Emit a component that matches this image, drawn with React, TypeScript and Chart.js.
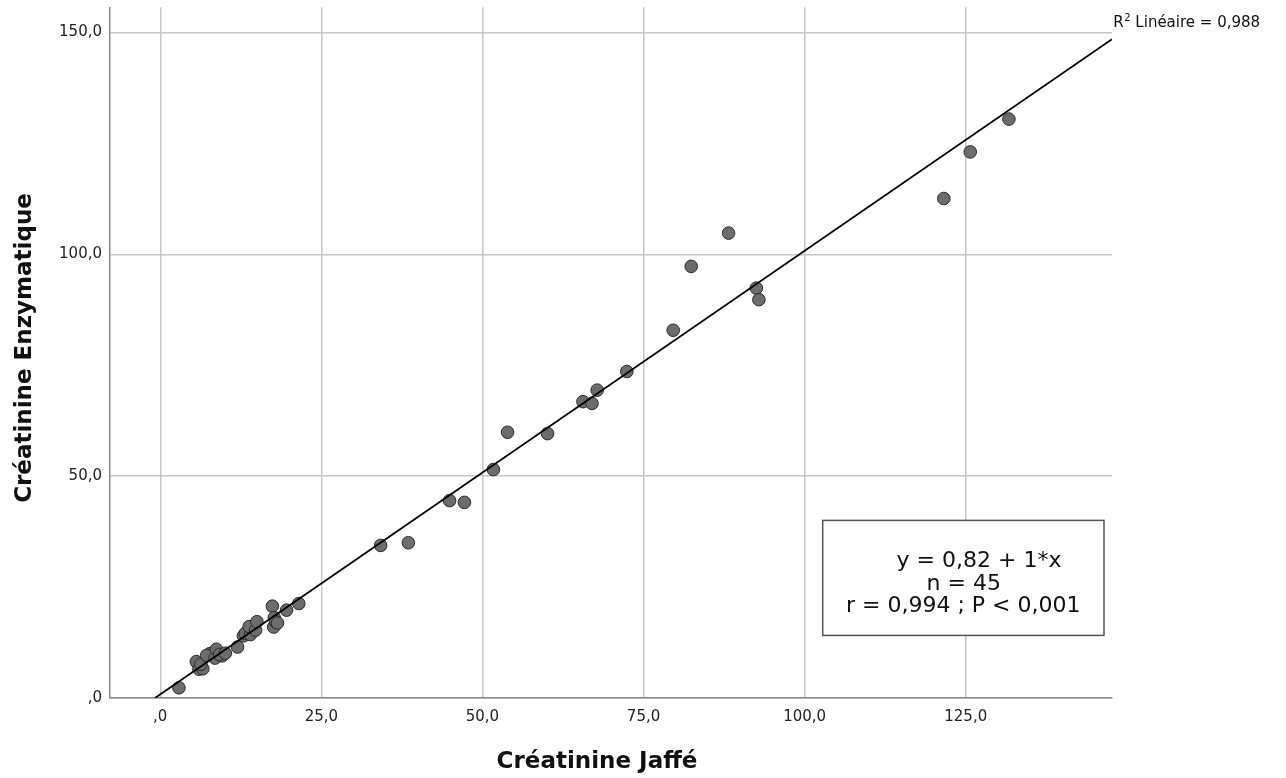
import React, { useEffect, useRef } from "react";
import { Chart, registerables } from "chart.js";

Chart.register(...registerables);

// ---- Data ----
const jaffe = [
  2.9, 5.6, 6.0, 6.6, 6.3, 7.7, 7.2, 8.5, 8.7, 9.6, 9.2, 10.1, 12.0, 12.9, 13.2,
  14.0, 13.8, 14.8, 15.0, 17.4, 17.6, 17.7, 17.9, 18.2, 19.6, 21.5, 34.2, 38.5,
  44.9, 47.2, 51.7, 53.9, 60.1, 65.6, 67.0, 67.8, 72.4, 79.6, 82.4, 88.2, 92.5,
  92.9, 121.6, 125.7, 131.7,
];
const enzymatique = [
  2.3, 8.2, 6.5, 6.6, 7.6, 10.0, 9.6, 9.0, 11.0, 9.5, 9.8, 10.1, 11.5, 14.0, 14.6,
  14.3, 16.1, 15.3, 17.2, 20.7, 16.0, 18.1, 17.2, 16.9, 19.8, 21.3, 34.4, 35.0,
  44.5, 44.1, 51.5, 59.9, 59.6, 66.8, 66.4, 69.4, 73.6, 82.9, 97.3, 104.8, 92.4,
  89.8, 112.6, 123.1, 130.5,
];
const xTicks = [0, 25, 50, 75, 100, 125];
const yTicks = [0, 50, 100, 150];
const xRange = [-7.8, 147.7];
const yRange = [0, 155.7];
const fitIntercept = 0.82;
const fitSlope = 1;
const fitX = [-0.82, 147.7];
const xTitle = "Créatinine Jaffé";
const yTitle = "Créatinine Enzymatique";
const r2Parts = ["R", "2", " Linéaire = 0,988"];
const boxLines = ["y = 0,82 + 1*x", "n = 45", "r = 0,994 ; P < 0,001"];

const fmt = (v: number) => (v === 0 ? ",0" : v.toFixed(1).replace(".", ","));

const FONT = '"DejaVu Sans", "Noto Sans", sans-serif';

const annotations = {
  id: "spssAnnotations",
  afterDraw(chart: any) {
    const { ctx, chartArea: ca } = chart;
    ctx.save();
    // Equation box
    const bx = ca.right - 289.3;
    const by = ca.bottom - 177.6;
    const bw = 281.3;
    const bh = 115;
    ctx.fillStyle = "#ffffff";
    ctx.fillRect(bx, by, bw, bh);
    ctx.strokeStyle = "#555555";
    ctx.lineWidth = 1.5;
    ctx.strokeRect(bx, by, bw, bh);
    ctx.fillStyle = "#111111";
    ctx.font = `22px ${FONT}`;
    ctx.textAlign = "center";
    ctx.textBaseline = "alphabetic";
    ctx.fillText(boxLines[0], bx + 156.3, by + 46.3);
    ctx.fillText(boxLines[1], bx + 141, by + 69.3);
    ctx.fillText(boxLines[2], bx + 140.5, by + 91.3);

    // R² label
    ctx.textAlign = "left";
    let tx = ca.right + 1.3;
    const ty = 27;
    ctx.font = `15px ${FONT}`;
    ctx.fillText(r2Parts[0], tx, ty);
    tx += ctx.measureText(r2Parts[0]).width + 0.5;
    ctx.font = `10px ${FONT}`;
    ctx.fillText(r2Parts[1], tx, ty - 6);
    tx += ctx.measureText(r2Parts[1]).width;
    ctx.font = `15px ${FONT}`;
    ctx.fillText(r2Parts[2], tx, ty);

    // Axis titles
    ctx.font = `bold 23px ${FONT}`;
    ctx.textAlign = "center";
    ctx.fillText(xTitle, 597, 768);
    ctx.translate(31, 348);
    ctx.rotate(-Math.PI / 2);
    ctx.fillText(yTitle, 0, 0);
    ctx.restore();
  },
};

export default function App() {
  const ref = useRef<HTMLCanvasElement | null>(null);

  useEffect(() => {
    if (!ref.current) return;
    const points = jaffe.map((x, i) => ({ x, y: enzymatique[i] }));
    const fit = fitX.map((x) => ({ x, y: fitIntercept + fitSlope * x }));
    const chart = new Chart(ref.current, {
      type: "scatter",
      data: {
        datasets: [
          {
            label: "Ajustement",
            data: fit,
            showLine: true,
            borderColor: "#000000",
            borderWidth: 1.8,
            pointRadius: 0,
            order: 0,
          } as any,
          {
            label: "Créatinine",
            data: points,
            pointRadius: 6.3,
            backgroundColor: "#6c6c6c",
            borderColor: "#2b2b2b",
            borderWidth: 1,
            order: 1,
          },
        ],
      },
      options: {
        animation: false,
        responsive: false,
        devicePixelRatio: 1,
        layout: { padding: { left: 0, top: 5, right: 174, bottom: 0 } },
        plugins: {
          legend: { display: false },
          tooltip: { enabled: false },
        },
        scales: {
          x: {
            type: "linear",
            min: xRange[0],
            max: xRange[1],
            afterBuildTicks: (s: any) => {
              s.ticks = xTicks.map((v) => ({ value: v }));
            },
            afterFit: (s: any) => {
              s.height = 80;
              s.paddingLeft = 0;
              s.paddingRight = 0;
            },
            grid: { color: "#c6c6c6", lineWidth: 1.5, drawTicks: false },
            border: { display: true, color: "#8a8a8a", width: 1.5 },
            ticks: {
              padding: 10,
              color: "#222222",
              font: { family: FONT, size: 15 },
              callback: (v: any) => fmt(Number(v)),
            },
          },
          y: {
            type: "linear",
            min: yRange[0],
            max: yRange[1],
            afterBuildTicks: (s: any) => {
              s.ticks = yTicks.map((v) => ({ value: v }));
            },
            afterFit: (s: any) => {
              s.width = 110;
              s.paddingTop = 0;
              s.paddingBottom = 0;
            },
            grid: { color: "#c6c6c6", lineWidth: 1.5, drawTicks: false },
            border: { display: true, color: "#8a8a8a", width: 1.5 },
            ticks: {
              padding: 8,
              color: "#222222",
              font: { family: FONT, size: 15 },
              callback: (v: any) => fmt(Number(v)),
            },
          },
        },
      },
      plugins: [annotations],
    });
    return () => chart.destroy();
  }, []);

  return (
    <canvas
      ref={ref}
      width={1286}
      height={778}
      style={{ position: "fixed", left: 0, top: 0, width: 1286, height: 778, background: "#ffffff" }}
    />
  );
}
